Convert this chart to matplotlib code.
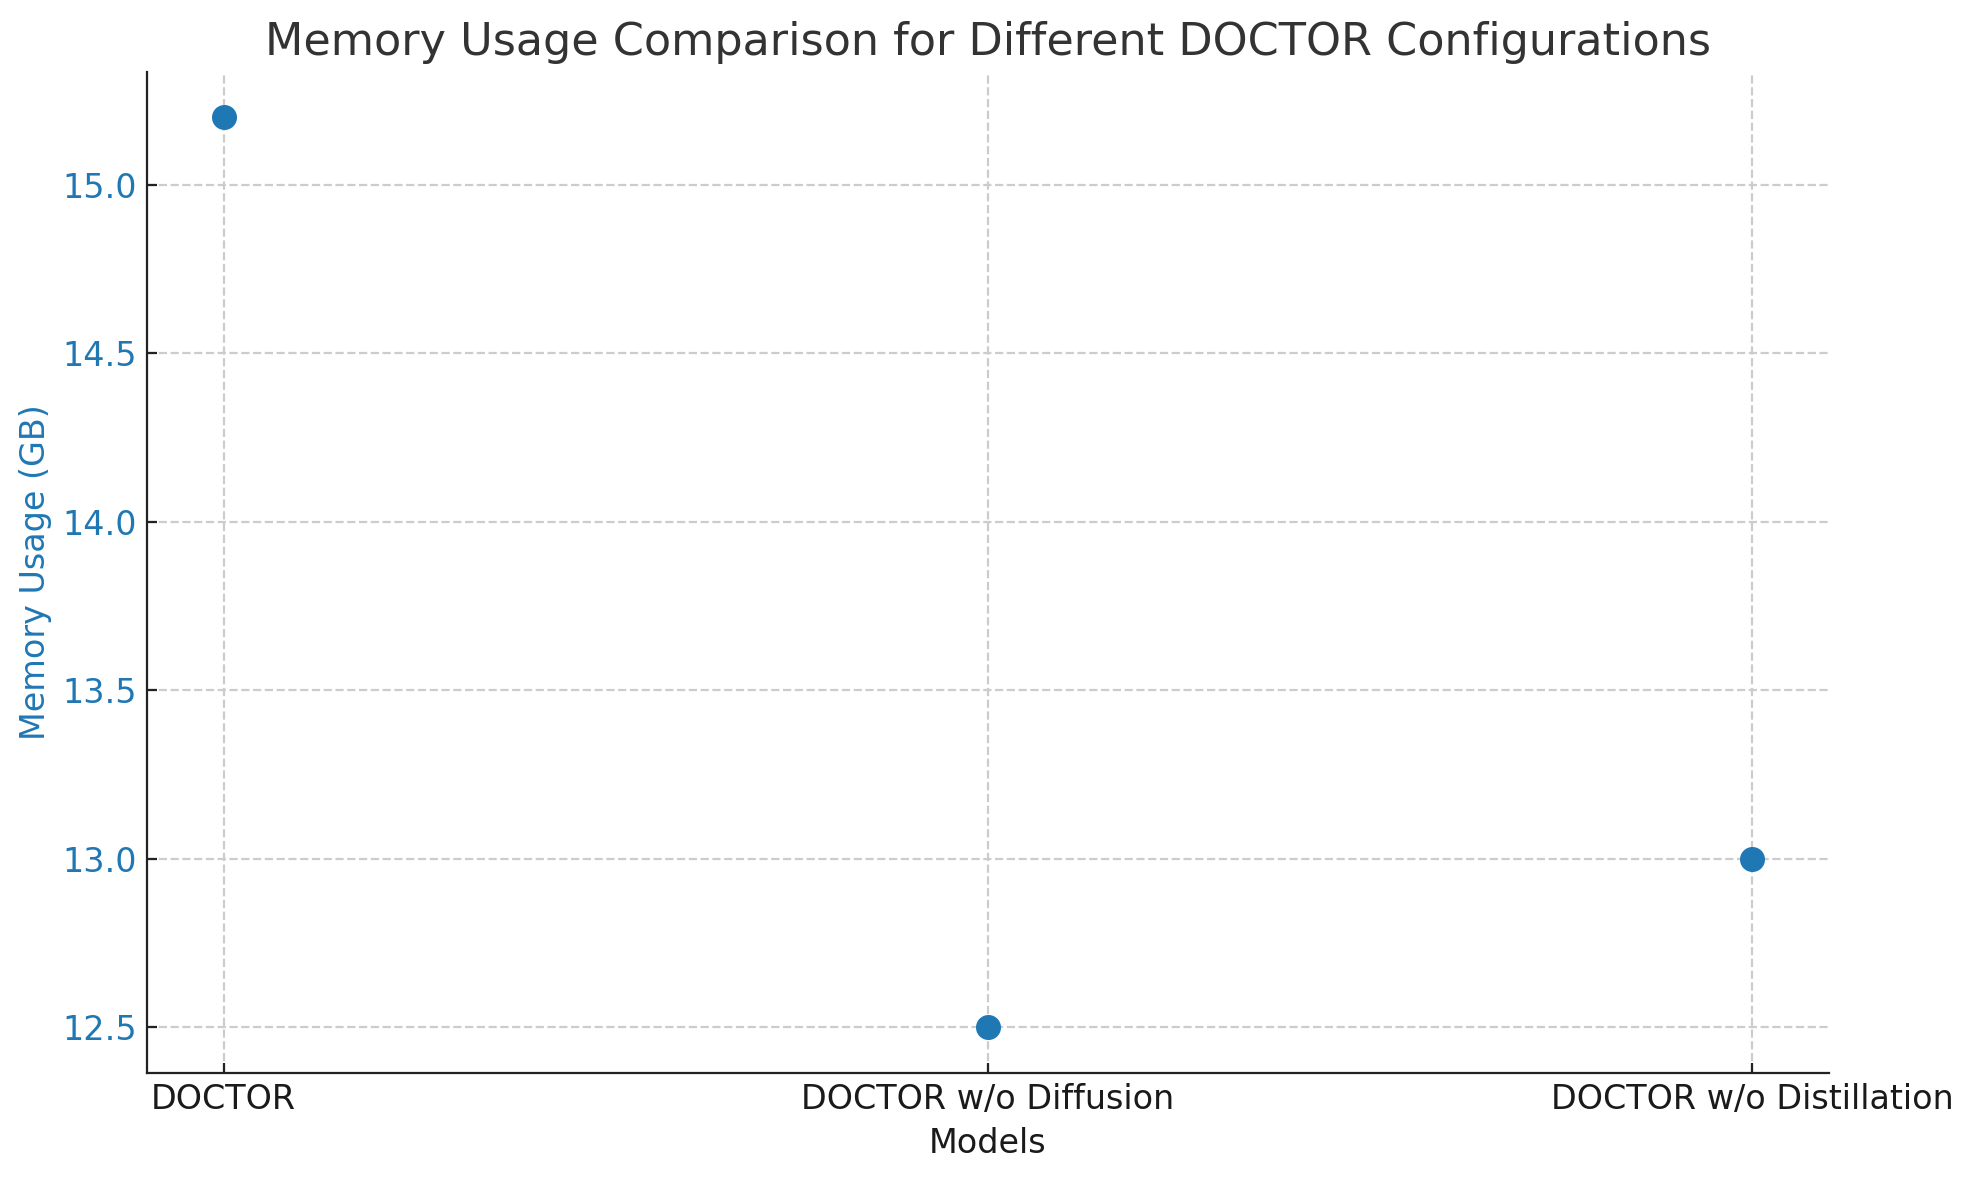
import matplotlib.pyplot as plt

# data
models = ["DOCTOR", "DOCTOR w/o Diffusion", "DOCTOR w/o Distillation"]
memory = [15.2, 12.5, 13.0]

blue = "#1f77b4"

fig, ax = plt.subplots(figsize=(1974/200, 1180/200), dpi=200)
fig.subplots_adjust(left=0.0745, right=0.9265, bottom=0.0907, top=0.939)

ax.plot(models, memory, 'o', color=blue, markersize=8, zorder=3)

ax.set_title("Memory Usage Comparison for Different DOCTOR Configurations",
             fontsize=16, color="#333333")
ax.set_xlabel("Models", fontsize=12, color="#1a1a1a")
ax.set_ylabel("Memory Usage (GB)", fontsize=12, color=blue)

ax.tick_params(axis='y', labelcolor=blue, labelsize=12, direction='in', color="#222222")
ax.tick_params(axis='x', labelcolor="#1a1a1a", labelsize=12, direction='in', color="#222222")

ax.grid(True, linestyle='--', color='#cccccc', linewidth=0.8)
ax.set_axisbelow(True)

for s in ['top', 'right']:
    ax.spines[s].set_visible(False)
for s in ['left', 'bottom']:
    ax.spines[s].set_color("#222222")

fig.savefig("out.png", dpi=200)
